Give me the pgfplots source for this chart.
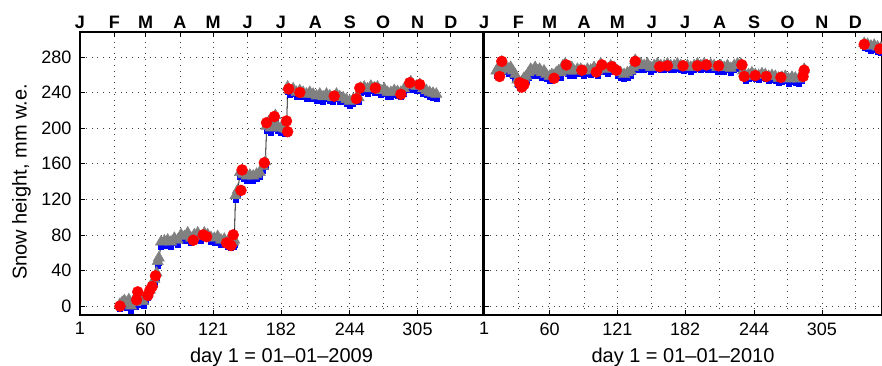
\documentclass[border=0pt]{standalone}
\usepackage{fontspec}
\setmainfont{Liberation Sans}
\usepackage{pgfplots}
\pgfplotsset{compat=1.18}
\usepackage{pgfplotstable}

\pgfplotstableread{
d v
37 0
39 2
41 4
43 1
45 5
47 -2
49 3
51 2
53 12
54 6
56 4
58 3
60 8
62 12
64 16
66 22
68 28
70 35
71 48
72 52
74 70
77 71
80 72
83 70
86 74
89 72
92 78
95 76
98 80
101 74
104 78
107 80
110 76
113 80
116 78
119 75
122 74
125 76
128 72
131 73
134 70
137 68
139 70
140 72
141 122
143 128
145 148
148 146
151 144
154 145
157 144
160 146
163 148
166 155
168 160
169 200
171 205
173 198
175 202
177 212
179 200
182 198
185 197
187 196
188 244
190 240
193 242
196 238
199 240
202 238
205 236
208 238
211 236
214 234
217 236
220 233
223 236
226 234
229 232
232 236
235 233
238 232
241 230
244 228
247 230
250 232
252 232
254 243
257 244
260 242
263 245
266 243
269 244
272 240
275 242
278 238
281 238
284 240
287 239
290 238
293 242
296 246
299 250
301 246
304 245
307 247
310 242
313 240
316 238
319 237
322 236
}\lineA

\pgfplotstableread{
d v
37 0
52 7
53 16
62 12
64 18
66 22
69 34
103 74
112 80
115 78
133 71
137 68
139 80
146 130
147 153
167 161
169 206
176 213
187 208
188 196
189 244
199 240
230 236
250 233
253 245
267 245
290 238
298 251
307 249
}\redA

\pgfplotstableread{
d v
12 262
14 266
16 262
17 272
19 268
21 266
23 264
25 266
27 262
29 258
31 252
33 248
35 250
37 254
39 256
41 260
43 264
45 262
47 266
49 262
51 264
53 260
55 262
57 258
60 256
62 258
64 257
66 260
68 262
70 260
72 268
74 270
76 264
78 262
80 266
82 262
85 264
88 264
91 262
94 264
97 263
100 266
103 262
106 270
109 266
112 264
115 268
118 266
121 262
124 260
127 258
130 260
133 262
135 266
137 274
139 268
142 270
145 268
148 270
151 266
154 268
157 270
160 268
163 268
166 270
169 268
172 268
175 270
178 268
181 267
184 268
187 266
190 268
193 270
196 268
199 270
202 268
205 269
208 268
211 266
214 268
217 266
220 268
223 265
226 268
229 270
232 270
234 262
236 256
239 258
242 260
245 258
248 257
251 259
254 258
257 256
260 257
263 256
266 254
269 255
272 256
275 253
278 255
281 254
284 253
287 256
289 264
300 nan
343 293
346 292
349 290
352 291
355 289
358 288
}\lineB

\pgfplotstableread{
d v
15 258
17 275
33 251
35 246
37 249
64 256
75 271
89 265
102 263
107 271
116 269
120 265
137 275
159 269
166 270
180 270
193 270
201 271
212 270
233 271
235 258
245 259
255 258
268 257
288 258
289 265
343 294
357 289
}\redB

\pgfplotsset{
  /pgf/number format/assume math mode=true,
  panel/.style={
    scale only axis,
    height=283bp,
    ymin=-10, ymax=308,
    xmin=1,
    anchor=south west,
    tick align=inside,
    axis line style={line width=1.1bp},
    every tick/.style={black, line width=0.8bp},
    major tick length=5bp,
    grid style={black!75, line width=0.8bp, dash pattern=on 0.8bp off 5bp},
    ticklabel style={font=\fontsize{18bp}{20bp}\selectfont},
    unbounded coords=jump,
  },
  mainax/.style={
    panel,
    xtick={1,60,121,182,244,305},
    xtick pos=lower,
    xticklabel style={yshift=-4bp},
    ytick={0,40,80,120,160,200,240,280},
    ytick pos=left,
    yticklabel style={xshift=-5bp},
    ymajorgrids,
    every axis x label/.style={at={(axis description cs:0.5,0)}, anchor=center, yshift=-42bp, font=\fontsize{20bp}{22bp}\selectfont},
  },
  topax/.style={
    panel,
    axis line style={draw=none},
    ytick=\empty,
    xtick={1,32,60,91,121,152,182,213,244,274,305,335},
    xticklabels={J,F,M,A,M,J,J,A,S,O,N,D},
    xtick pos=upper,
    xticklabel pos=upper,
    xticklabel style={font=\bfseries\fontsize{18bp}{20bp}\selectfont},
    xmajorgrids,
  },
  graytri/.style={only marks, mark=triangle*, mark size=6.5bp, color=gray, mark options={fill=gray, draw=gray, yshift=2bp}},
  bluesq/.style={only marks, mark=square*, mark size=2.5bp, color=blue, mark options={fill=blue, draw=blue, yshift=-2.5bp}},
  redc/.style={only marks, mark=*, mark size=5.5bp, color=red, mark options={fill=red, draw=red}},
  blk/.style={black, line width=0.8bp, no marks},
}

\begin{document}
\begin{tikzpicture}
% left panel
\begin{axis}[topax, at={(80bp,51bp)}, width=403bp, xmax=364]
\end{axis}
\begin{axis}[mainax, at={(80bp,51bp)}, width=403bp, xmax=364,
  xlabel={day 1 = 01--01--2009},
  ylabel={Snow height, mm w.e.},
  every axis y label/.style={at={(axis description cs:-0.145,0.47)}, rotate=90, anchor=center, font=\fontsize{20bp}{22bp}\selectfont},
]
\addplot[bluesq] table[x=d,y=v] {\lineA};
\addplot[graytri] table[x=d,y=v] {\lineA};
\addplot[redc] table[x=d,y=v] {\redA};
\addplot[blk] table[x=d,y=v] {\lineA};
\end{axis}
% right panel
\begin{axis}[topax, at={(484bp,51bp)}, width=398bp, xmax=359]
\end{axis}
\begin{axis}[mainax, at={(484bp,51bp)}, width=398bp, xmax=359,
  yticklabels={},
  xlabel={day 1 = 01--01--2010},
]
\addplot[bluesq] table[x=d,y=v] {\lineB};
\addplot[graytri] table[x=d,y=v] {\lineB};
\addplot[redc] table[x=d,y=v] {\redB};
\addplot[blk] table[x=d,y=v] {\lineB};
\end{axis}
\pgfresetboundingbox
\useasboundingbox (0,0) rectangle (882bp,366bp);
\end{tikzpicture}
\end{document}
